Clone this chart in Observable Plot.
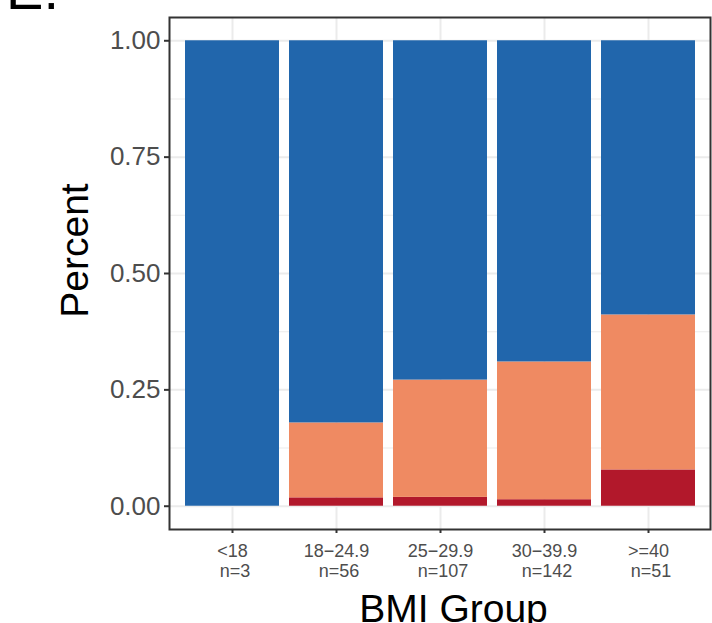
<!DOCTYPE html>
<html>
<head>
<meta charset="utf-8">
<script src="https://cdn.jsdelivr.net/npm/d3@7"></script>
<script src="https://cdn.jsdelivr.net/npm/@observablehq/plot@0.6"></script>
<style>
  html, body { margin: 0; padding: 0; background: white; }
</style>
</head>
<body>
<div id="chart"></div>
<script>
// ---- data ----
const categories = ["<18", "18\u221224.9", "25\u221229.9", "30\u221239.9", ">=40"];
const groupN = [3, 56, 107, 142, 51];
const levels = ["Severe", "Moderate", "None"]; // bottom -> top
const severeShare   = [0.000, 0.018, 0.019, 0.014, 0.078];
const moderateShare = [0.000, 0.161, 0.252, 0.296, 0.333];
const noneShare     = [1.000, 0.821, 0.729, 0.690, 0.589];
const levelColors = ["#B2182B", "#EF8A62", "#2166AC"];
const yTicks = [0, 0.25, 0.5, 0.75, 1];
const yMinorTicks = [0.125, 0.375, 0.625, 0.875];

const rows = [];
categories.forEach((c, i) => {
  rows.push({group: c, level: "Severe", value: severeShare[i]});
  rows.push({group: c, level: "Moderate", value: moderateShare[i]});
  rows.push({group: c, level: "None", value: noneShare[i]});
});
const nByGroup = new Map(categories.map((c, i) => [c, groupN[i]]));

const font = "'Liberation Sans', Arial, Helvetica, sans-serif";

const chart = Plot.plot({
  width: 712,
  height: 623,
  marginLeft: 169,
  marginRight: 2,
  marginTop: 17,
  marginBottom: 94,
  style: {fontFamily: font, background: "white", overflow: "visible"},
  x: {type: "band", domain: categories, paddingInner: 0.1, paddingOuter: 0.15, axis: null},
  y: {domain: [-0.05, 1.05], axis: null},
  color: {domain: levels, range: levelColors},
  marks: [
    Plot.gridY({ticks: yMinorTicks, stroke: "#EBEBEB", strokeOpacity: 1, strokeWidth: 1.1}),
    Plot.gridY({ticks: yTicks, stroke: "#EBEBEB", strokeOpacity: 1, strokeWidth: 2}),
    Plot.gridX({stroke: "#EBEBEB", strokeOpacity: 1, strokeWidth: 2}),
    Plot.barY(rows, {x: "group", y: "value", fill: "level", order: levels}),
    Plot.frame({stroke: "#333333", strokeWidth: 2}),
    Plot.axisY({
      ticks: yTicks, tickFormat: d3.format(".2f"), tickSize: 5, tickPadding: 4,
      fontSize: 26, fill: "#4D4D4D", stroke: "#333333", strokeWidth: 2, label: null
    }),
    Plot.axisX({
      tickSize: 4, tickPadding: 9, fontSize: 18, lineHeight: 20 / 18,
      fill: "#4D4D4D", stroke: "#333333", strokeWidth: 2, label: null,
      tickFormat: (d) => d + "\n\u00a0n=" + nByGroup.get(d)
    }),
    Plot.text(["BMI Group"], {
      frameAnchor: "bottom", lineAnchor: "top", textAnchor: "middle",
      dx: 13.5, dy: 64.3, fontSize: 39, fill: "black"
    }),
    Plot.text(["Percent"], {
      frameAnchor: "left", lineAnchor: "top", textAnchor: "middle", rotate: -90,
      dx: -109.7, dy: -23, fontSize: 39, fill: "black"
    }),
    Plot.text(["E."], {
      frameAnchor: "top-left", lineAnchor: "top", textAnchor: "start",
      dx: -163.4, dy: -47.8, fontSize: 56, fill: "black"
    })
  ]
});
document.getElementById("chart").appendChild(chart);
</script>
</body>
</html>
